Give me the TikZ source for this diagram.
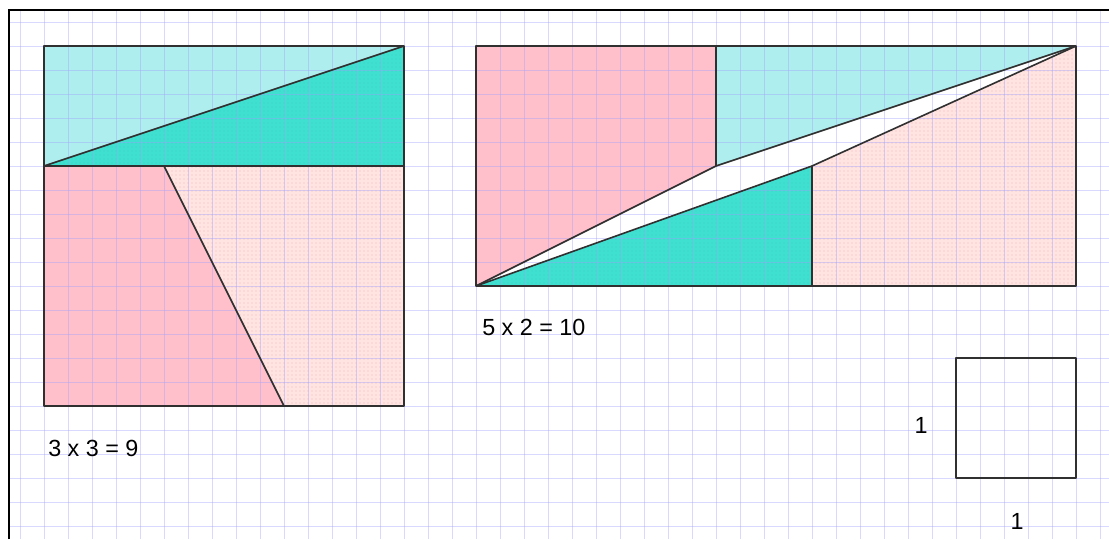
\documentclass[tikz,border=0pt]{standalone}
\usepackage{fontspec}
\setmainfont{Liberation Sans}
\usetikzlibrary{patterns}
\definecolor{cyanlt}{HTML}{AFEEEE}
\definecolor{turq}{HTML}{40E0D0}
\definecolor{turqdot}{HTML}{36D2C2}
\definecolor{pinkc}{HTML}{FFC0CB}
\definecolor{pinklt}{HTML}{FFE4E1}
\definecolor{pinkdot}{HTML}{F5B8BE}
\definecolor{gridc}{HTML}{A0A0FF}
\definecolor{edgec}{HTML}{303030}
\tikzset{
  cyanpiece/.style={fill=cyanlt},
  turqpiece/.style={fill=turq, postaction={pattern=dots, pattern color=turqdot}},
  pinkpiece/.style={fill=pinkc},
  pinkltpiece/.style={fill=pinklt, postaction={pattern=dots, pattern color=pinkdot}},
  gridline/.style={draw=gridc, opacity=0.4, line width=0.75pt},
  outline/.style={draw=edgec, line width=1.2pt, line join=round},
  label/.style={font=\fontsize{17.5}{21}\selectfont, inner sep=0pt, text=black}
}
\begin{document}
\begin{tikzpicture}[x=0.75pt,y=-0.75pt]
\useasboundingbox (0,0) rectangle (1109,539);
\fill[white] (0,0) rectangle (1109,539);
% left square pieces
\path[cyanpiece] (44,46) -- (404,46) -- (44,166) -- cycle;
\path[turqpiece] (44,166) -- (404,46) -- (404,166) -- cycle;
\path[pinkpiece] (44,166) -- (164,166) -- (284,406) -- (44,406) -- cycle;
\path[pinkltpiece] (164,166) -- (404,166) -- (404,406) -- (284,406) -- cycle;
% right rectangle pieces
\path[pinkpiece] (476,46) -- (716,46) -- (716,166) -- (476,286) -- cycle;
\path[cyanpiece] (716,46) -- (1076,46) -- (716,166) -- cycle;
\path[turqpiece] (476,286) -- (812,286) -- (812,166) -- cycle;
\path[pinkltpiece] (812,166) -- (1076,46) -- (1076,286) -- (812,286) -- cycle;
% grid
\foreach \gx in {20,44,...,1100} {\path[gridline] (\gx,10) -- (\gx,539);}
\foreach \gy in {22,46,...,526} {\path[gridline] (10,\gy) -- (1109,\gy);}
% frame
\draw[black, line width=2.2pt] (9,539) -- (9,10) -- (1109,10);
% outlines left square
\path[outline] (44,46) rectangle (404,406);
\path[outline] (44,166) -- (404,166);
\path[outline] (44,166) -- (404,46);
\path[outline] (164,166) -- (284,406);
% outlines right rectangle
\path[outline] (476,46) rectangle (1076,286);
\path[outline] (716,46) -- (716,166);
\path[outline] (476,286) -- (716,166) -- (1076,46);
\path[outline] (476,286) -- (812,166) -- (1076,46);
\path[outline] (812,166) -- (812,286);
% unit square
\node[outline, minimum size=90pt, inner sep=0pt] (unit) at (1016,418) {};
% labels
\node[label, anchor=west] (lsq) at (48,448) {3 x 3 = 9};
\node[label, anchor=west] (lrect) at (482,327) {5 x 2 = 10};
\node[label] (one1) at (921,425) {1};
\node[label] (one2) at (1017,521) {1};
\end{tikzpicture}
\end{document}
